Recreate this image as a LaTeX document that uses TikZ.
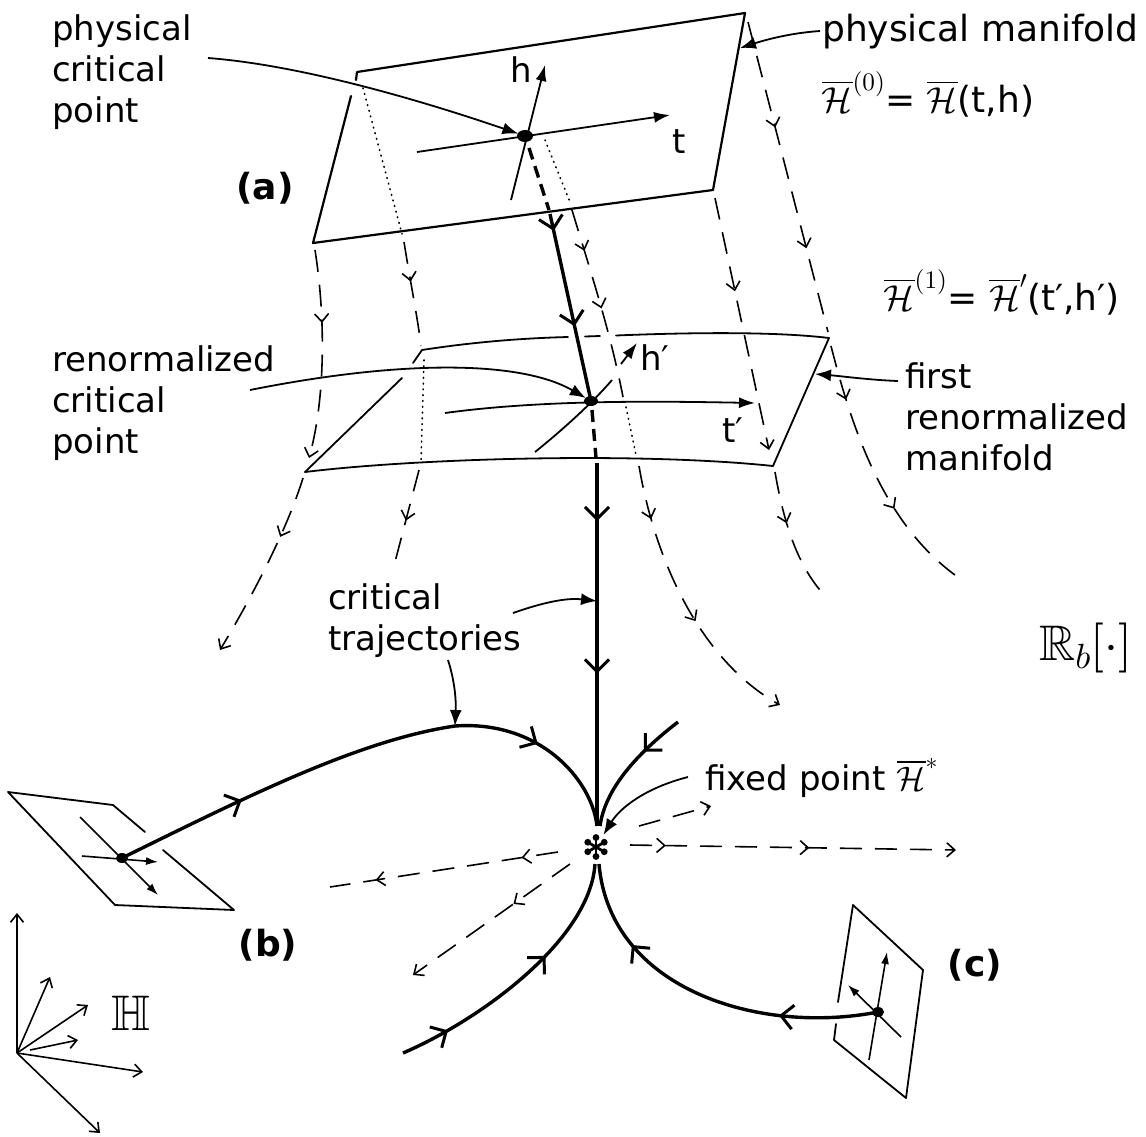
\documentclass[tikz,border=0pt]{standalone}
\usepackage{amssymb}
\usepackage{fontspec}
\setmainfont{DejaVu Sans}
\DeclareFontShape{OMS}{cmsy}{m}{n}{<->cmsy10}{}
\DeclareFontShape{OML}{cmm}{m}{it}{<->cmmi10}{}
\DeclareFontShape{OT1}{cmr}{m}{n}{<->cmr10}{}
\DeclareFontShape{OMX}{cmex}{m}{n}{<->cmex10}{}
\usetikzlibrary{arrows.meta,decorations.markings}
\tikzset{
  lbl/.style={font=\fontsize{34}{41}\selectfont, inner sep=0pt, align=left},
  tag/.style={font=\fontsize{36}{40}\selectfont\bfseries, inner sep=0pt},
  plane/.style={line width=2.2pt, line join=round, line cap=round},
  fplane/.style={line width=1.8pt, line join=round, line cap=round},
  fline/.style={line width=1.6pt, dash pattern=on 22pt off 13pt},
  hline/.style={line width=1.6pt, dash pattern=on 0.8pt off 5pt, line cap=round},
  traj/.style={line width=3.4pt},
  trajh/.style={line width=3.4pt, dash pattern=on 12pt off 7pt},
  ptr/.style={line width=1.8pt, -{Latex[length=16pt,width=12pt]}},
  axis/.style={line width=1.8pt, -{Latex[length=16pt,width=11pt]}},
  saxis/.style={line width=1.6pt, -{Latex[length=12pt,width=8pt]}},
  baxis/.style={line width=1.6pt, -{Straight Barb[length=8pt,width=13pt,line width=1.6pt]}},
  fb/.tip={Straight Barb[length=8pt,width=14pt,line width=1.6pt]},
  tb/.tip={Straight Barb[length=12pt,width=24pt,line width=3pt]},
  fat/.style={postaction={decorate,decoration={markings,mark=at position #1 with {\arrow{fb}}}}},
  tat/.style={postaction={decorate,decoration={markings,mark=at position #1 with {\arrow{tb}}}}},
  fixpt/.style={circle, inner sep=0pt, minimum size=28pt},
}
\begin{document}
\begin{tikzpicture}[x=1pt,y=-1pt]
\fill[white] (0,0) rectangle (1146,1136);
\useasboundingbox (0,0) rectangle (1146,1136);

% ---------- plane (a) ----------
\coordinate (aTL) at (357,72);
\coordinate (aTR) at (745,13);
\coordinate (aBR) at (713,190);
\coordinate (aBL) at (313,243);
\coordinate (ca) at (525,136);
\draw[plane] (356,80) -- (aTL) -- (aTR) -- (aBR) -- (aBL) -- (351,96);
\coordinate (ta0) at (417,152); \coordinate (ta1) at (670,115);
\coordinate (ha0) at (511,200); \coordinate (ha1) at (545,65);
\draw[axis] (ta0) -- (ta1);
\draw[axis] (ha0) -- (ha1);
\fill (ca) ellipse [x radius=8pt, y radius=6pt];
\node[lbl] (tlab) at (679,142) {t};
\node[lbl] (hlab) at (521,70) {h};

% ---------- plane (1) ----------
\coordinate (rTL) at (422,350);
\coordinate (rTR) at (829,338);
\coordinate (rBR) at (773,466);
\coordinate (rBL) at (305,472);
\coordinate (cr) at (591,401);
\draw[fplane] (rTL) .. controls (480,341) and (530,338) .. (568,337);
\draw[fplane] (585,336.5) -- (600,336);
\draw[fplane] (616,335.5) .. controls (700,332) and (780,332) .. (rTR);
\draw[fplane] (rBL) .. controls (420,458) and (640,452) .. (rBR);
\draw[fplane] (rBL) -- (402,378);
\draw[fplane] (413,363) -- (rTL);
\draw[fplane] (rTR) -- (rBR);
\draw[axis] (445,413) .. controls (540,400) and (650,401) .. (755,403);
\draw[line width=1.8pt] (535,452) .. controls (565,428) and (595,400) .. (612,380);
\draw[axis] (621,364) -- (637,343);
\fill (cr) ellipse [x radius=7pt, y radius=5pt];
\node[lbl] (tplab) at (733,430) {t′};
\node[lbl] (hplab) at (655,358) {h′};

% ---------- flow lines ----------
\draw[fline, fat=0.35, -{fb}] (315,250) .. controls (326,320) and (325,400) .. (309,458);
\draw[fline, fat=0.33, -{fb}] (303,478) .. controls (290,520) and (262,580) .. (220,650);
\draw[hline] (363,88) -- (402,234);
\draw[fline, fat=0.38] (404,242) .. controls (410,280) and (418,320) .. (421,346);
\draw[hline] (424,360) -- (421,462);
\draw[fline, fat=0.55] (419,470) -- (395,562);
\draw[hline] (545,140) -- (570,202);
\draw[fline, fat=0.22, fat=0.53] (572,210) .. controls (590,270) and (610,330) .. (623,397);
\draw[hline] (626,407) -- (636,455);
\draw[fline, fat=0.19, fat=0.58, -{fb}] (639,466) .. controls (655,560) and (700,660) .. (780,705);
\draw[fline, fat=0.34, fat=0.73] (748,22) -- (828,332);
\draw[fline, fat=0.21, fat=0.66] (831,346) .. controls (850,420) and (880,520) .. (955,575);
\draw[fline, fat=0.37, -{fb}] (715,198) -- (769,450);
\draw[fline, fat=0.38] (775,472) .. controls (785,530) and (800,570) .. (827,598);

% ---------- critical trajectory from (a) ----------
\draw[trajh] (529,148) -- (549,210);
\draw[traj, tat=0.09, tat=0.6] (550,214) -- (cr);
\draw[trajh] (592,410) -- (596,458);
\draw[traj, tat=0.16, tat=0.58] (597,463) -- (597,826);

% ---------- fixed point (bold asterisk) ----------
\node[fixpt] (star) at (596,847) {};
\foreach \a in {90,150,210,270,330,30} {
  \draw[line width=2.8pt] (star.center) -- ++(\a:9pt);
  \fill ([shift={(\a:9.5pt)}]star.center) circle (3.4pt);
}

% ---------- plane (b) ----------
\coordinate (bTL) at (8,792);
\coordinate (bTR) at (113,805);
\coordinate (bBR) at (234,910);
\coordinate (bBL) at (115,905);
\coordinate (cb) at (122,858);
\draw[fplane] (145,832) -- (bTR) -- (bTL) -- (bBL) -- (bBR) -- (163,850);
\draw[saxis] (82,856) -- (158,862);
\draw[saxis] (80,817) -- (158,895);
\fill (cb) ellipse [x radius=6pt, y radius=5pt];

% ---------- plane (c) ----------
\coordinate (cT) at (853,905);
\coordinate (cR) at (923,970);
\coordinate (cBR) at (906,1098);
\coordinate (cBL) at (834,1040);
\coordinate (cc) at (878,1012);
\draw[fplane] (838,1002) -- (cT) -- (cR) -- (cBR) -- (cBL) -- (836,1024);
\draw[saxis] (869,1060) -- (887,952);
\draw[saxis] (901,1037) -- (848,985);
\fill (cc) ellipse [x radius=6pt, y radius=5pt];

% ---------- trajectories into fixed point ----------
\coordinate (tpk) at (455,726);
\draw[traj, tat=0.37] (cb) .. controls (250,795) and (360,740) .. (tpk);
\draw[traj, tat=0.45] (tpk) .. controls (540,720) and (592,780) .. (597,826);
\draw[traj, tat=0.34] (678,722) .. controls (635,755) and (605,790) .. (600,826);
\draw[traj, tat=0.18, tat=0.62] (403,1053) .. controls (480,1020) and (590,940) .. (595,864);
\draw[traj, tat=0.28, tat=0.75] (cc) .. controls (760,1035) and (610,990) .. (599,864);

% ---------- repelling directions ----------
\draw[fline, fat=0.11, fat=0.55, -{fb}] (630,845) -- (956,850);
\draw[fline, -{fb}] (639,826) -- (711,806);
\draw[fline, fat=0.16, fat=0.8] (558,852) -- (330,887);
\draw[fline, fat=0.36, -{fb}] (570,864) -- (413,975);

% ---------- axes bundle ----------
\coordinate (o) at (17,1053);
\draw[baxis] (o) -- (17,913);
\draw[baxis] (o) -- (50,977);
\draw[baxis] (o) -- (88,1005);
\draw[baxis] (30,1050) -- (78,1040);
\draw[baxis] (o) -- (143,1072);
\draw[baxis] (o) -- (100,1133);

% ---------- labels and pointers ----------
\node[lbl, anchor=base west] (pcp) at (52,122) {physical\\critical\\point};
\coordinate (pcpS) at (208,58);
\draw[ptr, shorten >=7pt] (pcpS) .. controls (300,65) and (420,100) .. (ca);

\node[tag] (la) at (265,188) {(a)};
\node[tag] (lb) at (268,945) {(b)};
\node[tag] (lc) at (975,965) {(c)};

\node[lbl, anchor=base west, font=\fontsize{36}{41}\selectfont] (pml) at (822,41) {physical manifold};
\coordinate (pmS) at (820,31); \coordinate (pmE) at (740,48);
\draw[ptr] (pmS) .. controls (790,33) and (765,40) .. (pmE);

\node[lbl] (eq0) at (928,94) {\fontsize{36}{40}\selectfont$\overline{\mathcal{H}}^{(0)}$= $\overline{\mathcal{H}}$(t,h)};
\node[lbl] (eq1) at (1002,292) {\fontsize{36}{40}\selectfont$\overline{\mathcal{H}}^{(1)}$= $\overline{\mathcal{H}}'$(t′,h′)};

\node[lbl, anchor=base west] (rcp) at (52,453) {renormalized\\critical\\point};
\coordinate (rcpS) at (250,390);
\draw[ptr, shorten >=6pt] (rcpS) .. controls (400,360) and (520,360) .. (cr);

\node[lbl, anchor=base west] (frl) at (905,470) {first\\renormalized\\manifold};
\coordinate (frS) at (898,381); \coordinate (frE) at (815,374);
\draw[ptr] (frS) .. controls (870,380) and (840,376) .. (frE);

\node[lbl, anchor=base west] (ctl) at (328,650) {critical\\trajectories};
\coordinate (ctS1) at (513,613); \coordinate (ctE1) at (597,601);
\draw[ptr] (ctS1) .. controls (550,600) and (570,598) .. (ctE1);
\coordinate (ctS2) at (448,660);
\draw[ptr] (ctS2) .. controls (456,685) and (456,705) .. (tpk);

\node[lbl] (rb) at (1086,648) {\fontsize{50}{54}\selectfont$\mathbb{R}_{b}[\cdot]$};

\node[lbl, anchor=base west] (fxl) at (705,790) {fixed point $\overline{\mathcal{H}}^{*}$};
\coordinate (fxS) at (688,777);
\draw[ptr] (fxS) .. controls (645,788) and (620,808) .. (star);

\node[lbl] (Hl) at (131,1013) {\fontsize{50}{50}\selectfont$\mathbb{H}$};
\end{tikzpicture}
\end{document}
